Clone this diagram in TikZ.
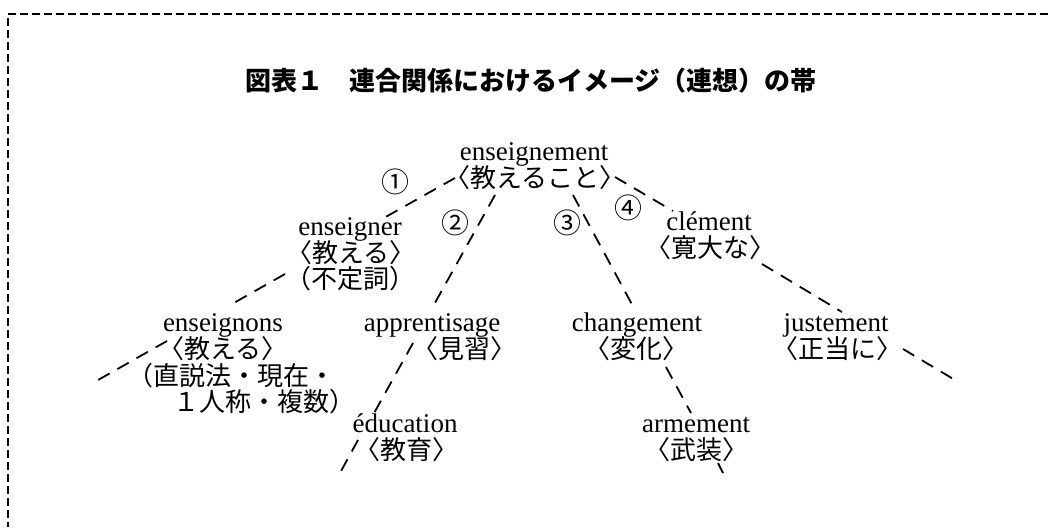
\documentclass[tikz,border=0pt]{standalone}
\usepackage{fontspec}
\setmainfont{Liberation Serif}
\newfontfamily\jp{Noto Sans CJK JP}[Scale=0.963]
\begin{document}
\begin{tikzpicture}[x=0.5pt,y=-0.5pt,
  lat/.style={anchor=base, inner sep=0pt, font=\fontsize{13.5}{13.5}\selectfont},
  ja/.style={anchor=base, inner sep=0pt, font=\fontsize{13.5}{13.5}\selectfont\jp},
  ttl/.style={anchor=base, inner sep=0pt, font=\fontsize{13.5}{13.5}\selectfont\jp\bfseries},
  num/.style={inner sep=0pt, font=\fontsize{14.5}{14.5}\selectfont\jp},
  link/.style={line width=0.9pt, dash pattern=on 6.5pt off 4.5pt},
  frame/.style={line width=1.1pt, dash pattern=on 4pt off 2pt}]
\useasboundingbox (0,0) rectangle (1048,527);
% frame
\coordinate (fr1) at (1048,14);
\coordinate (fr2) at (8,14);
\coordinate (fr3) at (8,527);
\draw[frame] (fr1) -- (fr2) -- (fr3);
% title
\node[ttl] (title) at (531,90) {図表１　連合関係におけるイメージ（連想）の帯};
% nodes
\node[lat] (n0a) at (534,160) {enseignement};
\node[ja]  (n0b) at (535,187) {〈教えること〉};
\node[lat] (n1a) at (350,235) {enseigner};
\node[ja]  (n1b) at (351,262) {〈教える〉};
\node[ja]  (n1c) at (350,288) {（不定詞）};
\node[lat] (n2a) at (223,331) {enseignons};
\node[ja]  (n2b) at (223,358) {〈教える〉};
\node[ja,anchor=base west] (n2c) at (127,385) {（直説法・現在・};
\node[ja,anchor=base west] (n2d) at (173,411) {１人称・複数）};
\node[lat] (n3a) at (432,331) {apprentisage};
\node[ja]  (n3b) at (464,358) {〈見習〉};
\node[lat] (n4a) at (405,432) {éducation};
\node[ja]  (n4b) at (406,459) {〈教育〉};
\node[lat] (n5a) at (637,331) {changement};
\node[ja]  (n5b) at (636,358) {〈変化〉};
\node[lat] (n6a) at (696,432) {armement};
\node[ja]  (n6b) at (696,459) {〈武装〉};
\node[lat] (n7a) at (709,230) {clément};
\node[ja]  (n7b) at (710,257) {〈寛大な〉};
\node[lat] (n8a) at (836,331) {justement};
\node[ja]  (n8b) at (837,358) {〈正当に〉};
% circled numbers
\node[num] (c1) at (395,182) {①};
\node[num] (c2) at (455,223) {②};
\node[num] (c3) at (567,223) {③};
\node[num] (c4) at (628,208) {④};
% line 1
\coordinate (a1) at (455,178);
\coordinate (a2) at (382,219);
\coordinate (a3) at (285,274);
\coordinate (a4) at (232,304);
\coordinate (a5) at (167,341);
\coordinate (a6) at (98,380);
\draw[link] (a1) -- (a2);
\draw[link] (a3) -- (a4);
\draw[link] (a5) -- (a6);
% line 2
\coordinate (b1) at (495,195);
\coordinate (b2) at (431,310);
\coordinate (b3) at (413,343);
\coordinate (b4) at (373,415);
\coordinate (b5) at (358,440);
\coordinate (b6) at (340,473);
\draw[link] (b1) -- (b2);
\draw[link] (b3) -- (b4);
\draw[link] (b5) -- (b6);
% line 3
\coordinate (d1) at (573,195);
\coordinate (d2) at (635,310);
\coordinate (d3) at (666,367);
\coordinate (d4) at (691,413);
\coordinate (d5) at (718,463);
\coordinate (d6) at (723,473);
\draw[link] (d1) -- (d2);
\draw[link] (d3) -- (d4);
\draw[link] (d5) -- (d6);
% line 4
\coordinate (e1) at (615,177);
\coordinate (e2) at (673,211);
\coordinate (e3) at (762,264);
\coordinate (e4) at (842,312);
\coordinate (e5) at (903,349);
\coordinate (e6) at (955,380);
\draw[link] (e1) -- (e2);
\draw[link] (e3) -- (e4);
\draw[link] (e5) -- (e6);
\end{tikzpicture}
\end{document}
